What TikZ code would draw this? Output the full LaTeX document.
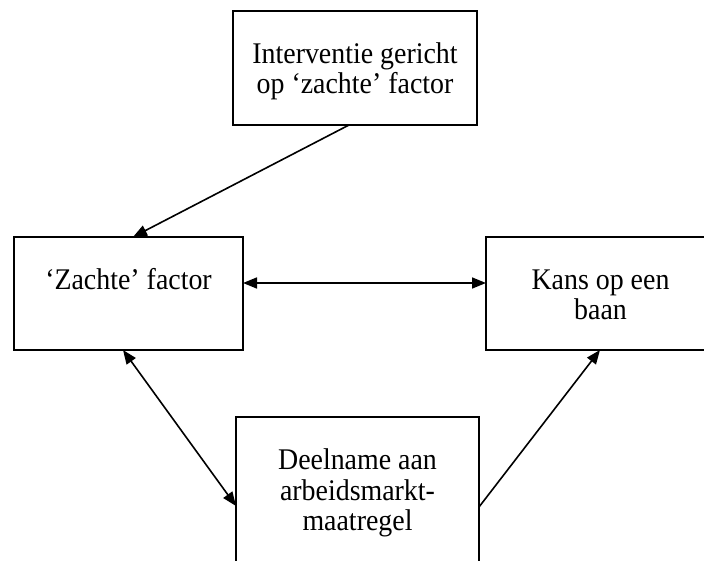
\documentclass[tikz,border=0pt]{standalone}
\usepackage{fontspec}
\setmainfont{Liberation Serif}
\newfontfamily\boxfont[FakeStretch=0.93]{Liberation Serif}
\usetikzlibrary{arrows.meta}
\newcommand\bxtext[3]{\parbox[c][#2][t]{#1}{\centering\boxfont\fontsize{30pt}{30.5pt}\selectfont\rule{0pt}{52.5pt}#3\par}}
\begin{document}
\begin{tikzpicture}[x=1pt,y=-1pt,
  boxnode/.style={draw=black,line width=2pt,inner sep=0pt,outer sep=0pt,rectangle},
  conn/.style={line width=1.6pt,-{Triangle[length=14pt,width=11pt]}},
  biconn/.style={line width=1.6pt,{Triangle[length=14pt,width=11pt]}-{Triangle[length=14pt,width=11pt]}}]
\useasboundingbox (0,0) rectangle (704,561);
\clip (0,0) rectangle (704,561);
\fill[white] (0,0) rectangle (704,561);
\node[boxnode] (top) at (355,68) {\bxtext{244pt}{114pt}{Interventie gericht\\op ‘zachte’ factor}};
\node[boxnode] (left) at (128.5,293.5) {\bxtext{229pt}{113pt}{‘Zachte’ factor}};
\node[boxnode] (right) at (600.5,293.5) {\bxtext{229pt}{113pt}{Kans op een\\baan}};
\node[boxnode] (bottom) at (357.5,517) {\bxtext{243pt}{200pt}{Deelname aan\\arbeidsmarkt-\\maatregel}};
\draw[conn] ([xshift=116pt]top.south west) -- ([xshift=119pt]left.north west);
\draw[biconn] ([yshift=10.5pt]left.east) -- ([yshift=10.5pt]right.west);
\draw[biconn] ([xshift=109pt]left.south west) -- ([yshift=-89pt]bottom.north west);
\draw[conn] ([yshift=-90pt]bottom.north east) -- ([xshift=114pt]right.south west);
\end{tikzpicture}
\end{document}
